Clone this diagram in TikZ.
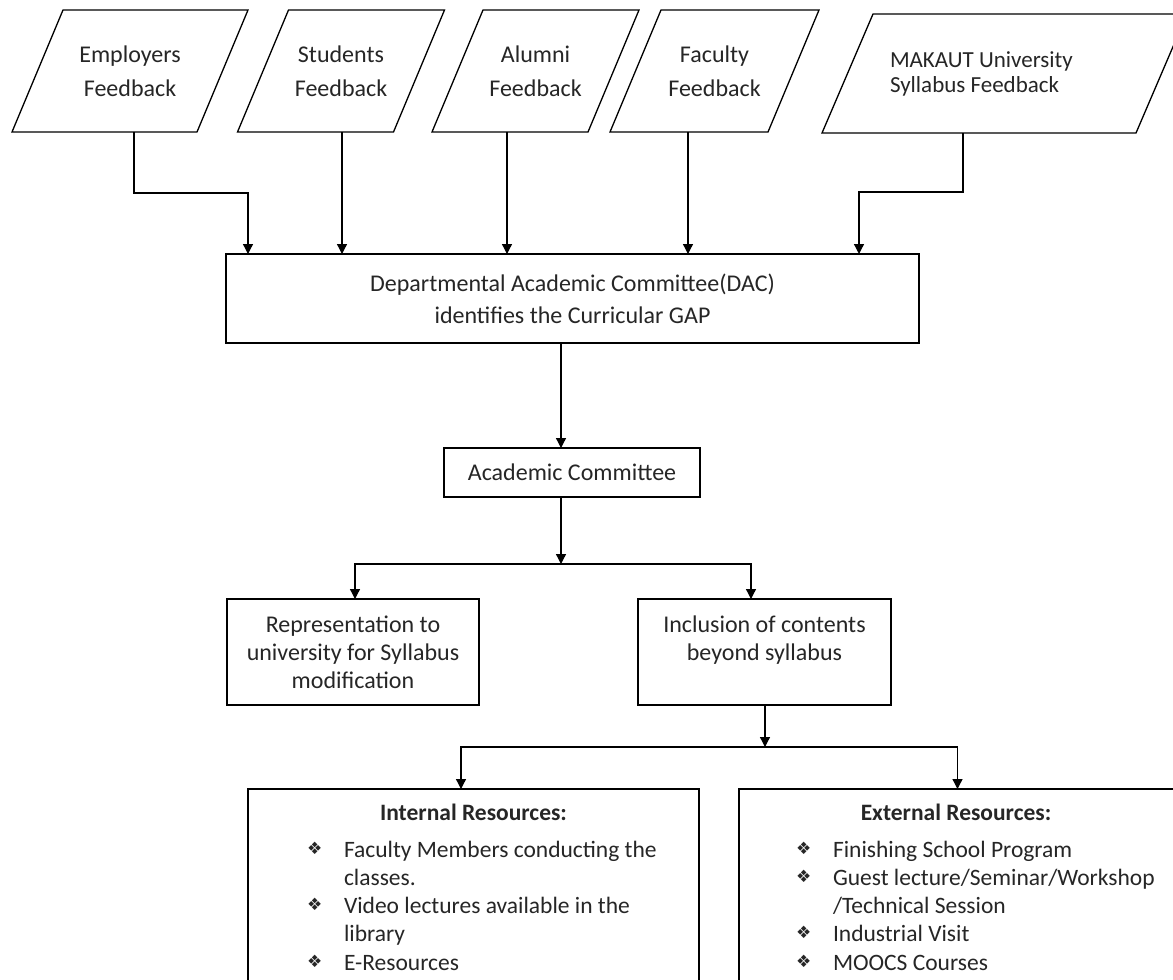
\documentclass[tikz,border=0pt]{standalone}
\usepackage{fontspec}
\setmainfont{Carlito}
\newfontfamily\dingfont{DejaVu Sans}
\usepackage{tikz}
\usetikzlibrary{arrows.meta}
\newcommand{\linew}{1.3pt}
\newcommand{\slant}{25.5pt}
\newcommand{\dia}{\makebox[37pt][l]{\raisebox{3pt}{\dingfont\fontsize{17}{17}\selectfont ❖}}}
\newcommand{\hang}{\hspace*{37pt}}

\begin{document}
\begin{tikzpicture}[x=1pt,y=-1pt,
        every node/.style={inner sep=0pt,outer sep=0pt,text=black!85},
        feed/.style={minimum width=#1,minimum height=122pt,align=center,
            font=\fontsize{24}{34}\selectfont,
            append after command={\pgfextra{\draw[line width=\linew]
                ([xshift=-\slant]\tikzlastnode.south west) -- ([xshift=-\slant]\tikzlastnode.south east)
                -- ([xshift=\slant]\tikzlastnode.north east) -- ([xshift=\slant]\tikzlastnode.north west)
                -- cycle;}}},
        blk/.style={draw=black,line width=\linew,rectangle,align=center,
            font=\fontsize{24}{28}\selectfont},
        resbox/.style={draw=black,line width=\linew,rectangle,anchor=north,minimum height=240pt},
        restitle/.style={anchor=base,font=\bfseries\fontsize{23.5}{28}\selectfont},
        reslist/.style={align=left,anchor=north west,font=\fontsize{23.5}{28.3}\selectfont},
        arr/.style={draw=black,line width=\linew,-{Triangle[length=10pt,width=10pt]}}]
            %\draw[help lines] (0,0) grid (1173,980);
            \fill[white] (0,0) rectangle (1173,980);
            \useasboundingbox (0,0) rectangle (1173,980);
            \clip (0,0) rectangle (1173,980);
            % feedback sources
            \node[feed=185pt] (emp) at (130,71) {Employers\\Feedback};
            \node[feed=156pt] (stud) at (341,71) {Students\\Feedback};
            \node[feed=156pt] (alum) at (535.5,71) {Alumni\\Feedback};
            \node[feed=158pt] (fac) at (714.5,71) {Faculty\\Feedback};
            \node[feed=314pt,minimum height=119pt,align=flush left,text width=229pt,
                font=\fontsize{23}{25}\selectfont] (mak) at (1004.5,73.5) {MAKAUT University\\Syllabus Feedback\\[4pt]};
            % committees
            \node[blk,minimum width=693pt,minimum height=89pt,font=\fontsize{24}{32}\selectfont]
                (dac) at (572.5,298.5) {Departmental Academic Committee(DAC)\\identifies the Curricular GAP};
            \node[blk,minimum width=256pt,minimum height=49pt] (ac) at (572,472.5) {Academic Committee};
            \node[blk,minimum width=252pt,minimum height=106pt] (rep) at (353,652)
                {Representation to\\university for Syllabus\\modification};
            \node[blk,minimum width=253pt,minimum height=106pt] (inc) at (764.5,652)
                {Inclusion of contents\\beyond syllabus\\\mbox{}};
            % resources
            \node[resbox,minimum width=451pt] (intres) at (473.5,789) {};
            \node[resbox,minimum width=437pt] (extres) at (957.5,789) {};
            \node[restitle] (inttitle) at (473.5,820) {Internal Resources:};
            \node[restitle] (exttitle) at (956,820) {External Resources:};
            \node[reslist] (intlist) at (307,837.2) {\strut\dia Faculty Members conducting the\\
                \hang classes.\\\dia Video lectures available in the\\\hang library\\\dia E-Resources};
            \node[reslist] (extlist) at (796,837.2) {\strut\dia Finishing School Program\\
                \dia Guest lecture/Seminar/Workshop\\\hang/Technical Session\\\dia Industrial Visit\\
                \dia MOOCS Courses};
            % connectors
            \coordinate (in1) at (248,254);
            \coordinate (in2) at (342,254);
            \coordinate (in3) at (507,254);
            \coordinate (in4) at (688,254);
            \coordinate (in5) at (859,254);
            \coordinate (split1) at (561,564);
            \coordinate (split2) at (765,747);
            \draw[arr] ([xshift=4pt]emp.south) -- ++(0,61) -| (in1);
            \foreach \src/\dst in {stud/in2,alum/in3,fac/in4}
                \draw[arr] (\src.south -| \dst) -- (\dst);
            \draw[arr] ([xshift=-41.5pt]mak.south) -- ++(0,59) -| (in5);
            \draw[arr] (dac.south -| split1) -- (ac.north -| split1);
            \draw[arr] (ac.south -| split1) -- (split1);
            \draw[arr] (split1) -| ([xshift=2pt]rep.north);
            \draw[arr] (split1) -| ([xshift=-13.5pt]inc.north);
            \draw[arr] (inc.south -| split2) -- (split2);
            \draw[arr] (split2) -| ([xshift=-12.5pt]intres.north);
            \draw[arr] (split2) -| (extres.north);
        \end{tikzpicture}
\end{document}
